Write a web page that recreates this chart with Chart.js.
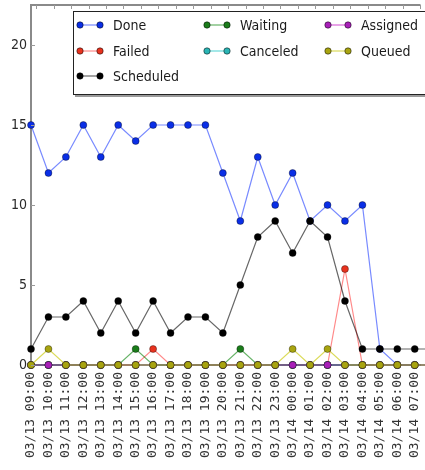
<!DOCTYPE html>
<html>
<head>
<meta charset="utf-8">
<script src="https://cdn.jsdelivr.net/npm/chart.js@4"></script>
<style>
  html, body { margin: 0; padding: 0; background: #fff; }
  #wrap { width: 425px; height: 470px; position: relative; }
</style>
</head>
<body>
<div id="wrap"><canvas id="jobChart" width="425" height="470"></canvas></div>
<script>
// Hourly time slots (last one runs off the right edge of the plot)
const labels = ['03/13 09:00', '03/13 10:00', '03/13 11:00', '03/13 12:00', '03/13 13:00', '03/13 14:00',
  '03/13 15:00', '03/13 16:00', '03/13 17:00', '03/13 18:00', '03/13 19:00', '03/13 20:00',
  '03/13 21:00', '03/13 22:00', '03/13 23:00', '03/14 00:00', '03/14 01:00', '03/14 02:00',
  '03/14 03:00', '03/14 04:00', '03/14 05:00', '03/14 06:00', '03/14 07:00', '03/14 08:00'];

const done      = [15, 12, 13, 15, 13, 15, 14, 15, 15, 15, 15, 12, 9, 13, 10, 12, 9, 10, 9, 10, 1, 0, 0, 0];
const failed    = [0, 0, 0, 0, 0, 0, 0, 1, 0, 0, 0, 0, 0, 0, 0, 0, 0, 0, 6, 0, 0, 0, 0, 0];
const scheduled = [1, 3, 3, 4, 2, 4, 2, 4, 2, 3, 3, 2, 5, 8, 9, 7, 9, 8, 4, 1, 1, 1, 1, 1];
const waiting   = [0, 0, 0, 0, 0, 0, 1, 0, 0, 0, 0, 0, 1, 0, 0, 0, 0, 0, 0, 0, 0, 0, 0, 0];
const canceled  = [0, 0, 0, 0, 0, 0, 0, 0, 0, 0, 0, 0, 0, 0, 0, 0, 0, 0, 0, 0, 0, 0, 0, 0];
const assigned  = [0, 0, 0, 0, 0, 0, 0, 0, 0, 0, 0, 0, 0, 0, 0, 0, 0, 0, 0, 0, 0, 0, 0, 0];
const queued    = [0, 1, 0, 0, 0, 0, 0, 0, 0, 0, 0, 0, 0, 0, 0, 1, 0, 1, 0, 0, 0, 0, 0, 0];

const yTicks = [0, 5, 10, 15, 20];

const xMax = 22.33;
const yMax = 22.5;

const toPoints = (arr) => arr.map((v, i) => ({ x: i, y: v }));

const series = [
  { label: 'Done',      data: done,      line: 'rgba(30,60,255,0.6)',  dot: '#0a2ee6' },
  { label: 'Failed',    data: failed,    line: 'rgba(255,40,40,0.55)', dot: '#e8321e' },
  { label: 'Scheduled', data: scheduled, line: 'rgba(0,0,0,0.6)',      dot: '#000000' },
  { label: 'Waiting',   data: waiting,   line: 'rgba(0,128,0,0.6)',    dot: '#1a7d1a' },
  { label: 'Canceled',  data: canceled,  line: 'rgba(0,191,191,0.6)',  dot: '#2ab5b5' },
  { label: 'Assigned',  data: assigned,  line: 'rgba(191,0,191,0.6)',  dot: '#a81fb8' },
  { label: 'Queued',    data: queued,    line: 'rgba(200,200,0,0.65)', dot: '#a8a410' }
];

// matplotlib-style legend inside the axes, 3 columns filled top-down
const legendCols = [3, 2, 2];
const legendPlugin = {
  id: 'mplLegend',
  afterDraw(chart) {
    const c = chart.ctx;
    c.save();
    // shadow + box
    c.fillStyle = '#9a9a9a';
    c.fillRect(75, 13, 360, 84);
    c.fillStyle = '#fff';
    c.fillRect(73, 11, 360, 83);
    c.strokeStyle = '#222';
    c.lineWidth = 1;
    c.strokeRect(73.5, 11.5, 360, 83);

    const colX = [80, 207, 328];
    const rowY = [25, 51, 76];
    c.font = '14px "DejaVu Sans Condensed", "DejaVu Sans", sans-serif';
    c.textBaseline = 'middle';
    let k = 0;
    legendCols.forEach((n, col) => {
      for (let row = 0; row < n; row++, k++) {
        const ds = chart.data.datasets[k];
        const x = colX[col], y = rowY[row];
        c.strokeStyle = ds.borderColor;
        c.lineWidth = 1.2;
        c.beginPath();
        c.moveTo(x, y);
        c.lineTo(x + 20, y);
        c.stroke();
        [x, x + 20].forEach(px => {
          c.beginPath();
          c.arc(px, y, 3.2, 0, Math.PI * 2);
          c.fillStyle = ds.pointBackgroundColor;
          c.fill();
          c.lineWidth = 0.5;
          c.strokeStyle = '#000';
          c.stroke();
        });
        c.fillStyle = '#1a1a1a';
        c.fillText(ds.label, x + 33, y + 1);
      }
    });
    c.restore();
  }
};

// top spine plus inward tick marks
const framePlugin = {
  id: 'frame',
  afterDraw(chart) {
    const { ctx: c, chartArea: a, scales } = chart;
    c.save();
    c.strokeStyle = '#8a8a8a';
    c.lineWidth = 2;
    c.beginPath();
    c.moveTo(a.left - 1, a.top);
    c.lineTo(a.right, a.top);
    c.stroke();
    c.lineWidth = 1;
    c.strokeStyle = '#999';
    c.beginPath();
    for (let i = 0; i < labels.length; i++) {
      const px = Math.round(scales.x.getPixelForValue(i + 0.3)) + 0.5;
      if (px > a.right) break;
      c.moveTo(px, a.top);
      c.lineTo(px, a.top + 4);
    }
    yTicks.forEach(v => {
      const py = Math.round(scales.y.getPixelForValue(v)) + 0.5;
      c.moveTo(a.left, py);
      c.lineTo(a.left + 4, py);
    });
    c.stroke();
    c.restore();
  }
};

new Chart(document.getElementById('jobChart'), {
  type: 'line',
  data: {
    datasets: series.map((s, i) => ({
      label: s.label,
      data: toPoints(s.data),
      borderColor: s.line,
      borderWidth: 1.2,
      pointBackgroundColor: s.dot,
      pointBorderColor: 'rgba(0,0,0,0.7)',
      pointBorderWidth: 0.5,
      pointRadius: 3.5,
      tension: 0,
      fill: false,
      clip: false,
      order: series.length - i
    }))
  },
  options: {
    responsive: false,
    animation: false,
    events: [],
    layout: { padding: { top: 5, right: 0, bottom: 0, left: 0 } },
    scales: {
      x: {
        type: 'linear',
        min: 0,
        max: xMax,
        afterBuildTicks: (axis) => {
          axis.ticks = labels.map((_, i) => ({ value: i })).filter(t => t.value <= xMax);
        },
        afterFit: (axis) => {
          axis.height = 105;
          axis.paddingLeft = 0;
          axis.paddingRight = 0;
        },
        grid: { display: false, drawTicks: false },
        border: { display: true, color: '#8a8a8a', width: 2 },
        ticks: {
          autoSkip: false,
          minRotation: 90,
          maxRotation: 90,
          padding: 7,
          color: '#333',
          font: { family: '"DejaVu Sans Mono", monospace', size: 13 },
          callback: (v) => labels[v]
        }
      },
      y: {
        min: 0,
        max: yMax,
        afterBuildTicks: (axis) => { axis.ticks = yTicks.map(v => ({ value: v })); },
        afterFit: (axis) => {
          axis.width = 31;
          axis.paddingTop = 0;
          axis.paddingBottom = 0;
        },
        grid: { display: false, drawTicks: false },
        border: { display: true, color: '#8a8a8a', width: 2 },
        ticks: {
          padding: 4,
          color: '#2a2a2a',
          font: { family: '"DejaVu Sans Condensed", "DejaVu Sans", sans-serif', size: 14 }
        }
      }
    },
    plugins: {
      legend: { display: false },
      tooltip: { enabled: false }
    }
  },
  plugins: [framePlugin, legendPlugin]
});
</script>
</body>
</html>
